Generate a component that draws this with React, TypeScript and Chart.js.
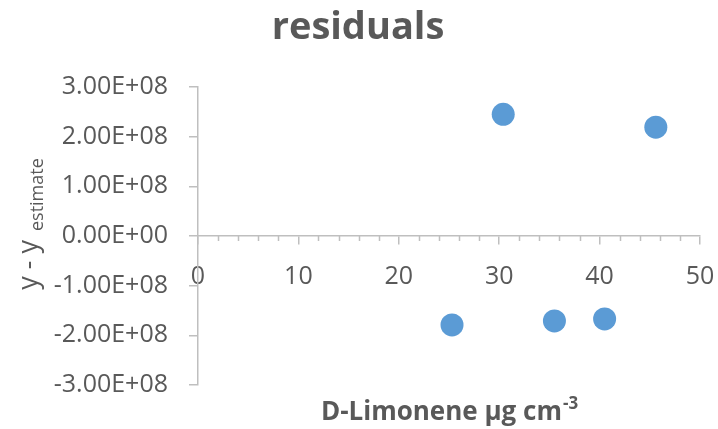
import React, { useEffect, useRef } from "react";
import { Chart, registerables } from "chart.js";

Chart.register(...registerables);

// ---- data ----
const concentrations = [25.3, 30.4, 35.5, 40.5, 45.6];
const residuals = [-1.79e8, 2.45e8, -1.71e8, -1.67e8, 2.19e8];
const xRange = [0, 50];
const xMajorStep = 10;
const xMinorStep = 2;
const yRange = [-3e8, 3e8];
const yStep = 1e8;
const chartTitle = "residuals";
const xTitleMain = "D-Limonene µg cm";
const xTitleSup = "-3";
const yTitleMain = "y - y";
const yTitleSub = "estimate";

const FONT = "'Open Sans', 'DejaVu Sans', sans-serif";
const TEXT = "#595959";
const AXIS = "#BFBFBF";
const POINT = "#5B9BD5";

function fmtSci(v: number): string {
  const s = Number(v).toExponential(2);
  const [m, e] = s.split("e");
  const sign = e[0] === "-" ? "-" : "+";
  const digits = e.replace(/[+-]/, "").padStart(2, "0");
  return `${m}E${sign}${digits}`;
}

const decorPlugin = {
  id: "decor",
  afterDraw(chart: any) {
    const ctx = chart.ctx as CanvasRenderingContext2D;
    const xs = chart.scales.x;
    const ys = chart.scales.y;
    const area = chart.chartArea;
    ctx.save();
    // minor ticks on x axis
    ctx.strokeStyle = AXIS;
    ctx.lineWidth = 1.5;
    const y0 = ys.getPixelForValue(0);
    for (let v = xRange[0]; v <= xRange[1]; v += xMinorStep) {
      if (v % xMajorStep === 0) continue;
      const px = Math.round(xs.getPixelForValue(v)) + 0.5;
      ctx.beginPath();
      ctx.moveTo(px, y0);
      ctx.lineTo(px, y0 + 5);
      ctx.stroke();
    }
    ctx.fillStyle = TEXT;
    // chart title
    ctx.font = `bold 38px ${FONT}`;
    ctx.textAlign = "center";
    ctx.textBaseline = "alphabetic";
    ctx.fillText(chartTitle, 358, 39);

    // x title with superscript
    const cx = (area.left + area.right) / 2;
    ctx.font = `bold 26px ${FONT}`;
    const wMain = ctx.measureText(xTitleMain).width;
    ctx.font = `bold 17px ${FONT}`;
    const wSup = ctx.measureText(xTitleSup).width;
    const startX = cx - (wMain + wSup) / 2;
    ctx.textAlign = "left";
    ctx.font = `bold 26px ${FONT}`;
    ctx.fillText(xTitleMain, startX, 420);
    ctx.font = `bold 17px ${FONT}`;
    ctx.fillText(xTitleSup, startX + wMain + 1, 409);

    // y title with subscript (rotated)
    ctx.font = `27px ${FONT}`;
    const wy = ctx.measureText(yTitleMain + " ").width + 2;
    ctx.font = `18px ${FONT}`;
    const ws = ctx.measureText(yTitleSub).width;
    const cy = 224;
    ctx.translate(37, cy);
    ctx.rotate(-Math.PI / 2);
    const sx = -(wy + ws) / 2;
    ctx.font = `27px ${FONT}`;
    ctx.fillText(yTitleMain, sx, 0);
    ctx.font = `18px ${FONT}`;
    ctx.fillText(yTitleSub, sx + wy, 6);
    ctx.restore();
  },
};

export default function App() {
  const ref = useRef<HTMLCanvasElement>(null);
  useEffect(() => {
    if (!ref.current) return;
    const chart = new Chart(ref.current, {
      type: "scatter",
      data: {
        datasets: [
          {
            data: concentrations.map((x, i) => ({ x, y: residuals[i] })),
            backgroundColor: POINT,
            borderColor: POINT,
            borderWidth: 0,
            pointRadius: 11.5,
            pointHoverRadius: 11.5,
          },
        ],
      },
      options: {
        animation: false,
        responsive: false,
        maintainAspectRatio: false,
        events: [],
        layout: { padding: { top: 87, bottom: 44, left: 0, right: 18 } },
        plugins: {
          legend: { display: false },
          title: { display: false },
          tooltip: { enabled: false },
        },
        scales: {
          x: {
            type: "linear",
            position: { y: 0 } as any,
            min: xRange[0],
            max: xRange[1],
            afterFit: (s: any) => {
              s.height = 0;
              s.paddingLeft = 0;
              s.paddingRight = 0;
            },
            ticks: {
              stepSize: xMajorStep,
              color: TEXT,
              font: { family: FONT, size: 25 },
              padding: 18,
              maxRotation: 0,
              autoSkip: false,
            },
            grid: {
              drawOnChartArea: false,
              drawTicks: true,
              tickLength: 8,
              color: AXIS,
              lineWidth: 1.5,
            },
            border: { display: true, color: AXIS, width: 1.5 },
          },
          y: {
            type: "linear",
            min: yRange[0],
            max: yRange[1],
            afterFit: (s: any) => {
              s.width = 198;
            },
            ticks: {
              stepSize: yStep,
              color: TEXT,
              font: { family: FONT, size: 25 },
              padding: 21,
              callback: (v: any) => fmtSci(Number(v)),
            },
            grid: {
              drawOnChartArea: false,
              drawTicks: true,
              tickLength: 9,
              color: AXIS,
              lineWidth: 1.5,
            },
            border: { display: true, color: AXIS, width: 1.5 },
          },
        },
      },
      plugins: [decorPlugin],
    });
    return () => chart.destroy();
  }, []);
  return (
    <div style={{ position: "absolute", left: 0, top: 0, width: 718, height: 429, background: "#fff" }}>
      <canvas ref={ref} width={718} height={429} style={{ width: 718, height: 429 }} />
    </div>
  );
}
